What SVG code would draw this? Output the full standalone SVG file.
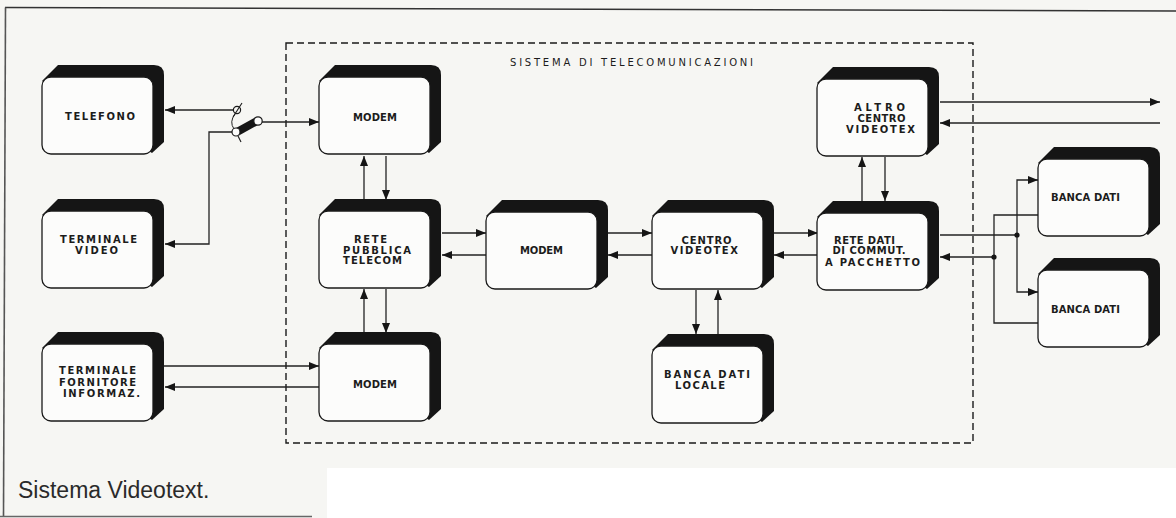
<svg xmlns="http://www.w3.org/2000/svg" width="1176" height="518" viewBox="0 0 1176 518">
<defs>
<style>
.bk{fill:#151515}
.fr{fill:#fcfcfb;stroke:#1a1a1a;stroke-width:1.3}
.t{font-family:"DejaVu Sans","Liberation Sans",sans-serif;font-size:10px;font-weight:bold;fill:#1c1c1c}
.tn{font-weight:normal}
.c{fill:none;stroke:#222;stroke-width:1.3}
.a{marker-end:url(#ar)}
.dot{fill:#151515}
</style>
<marker id="ar" viewBox="0 0 10 8" refX="10" refY="4" markerWidth="10" markerHeight="8" markerUnits="userSpaceOnUse" orient="auto"><path d="M0,0 L10,4 L0,8 Z" fill="#151515"/></marker>
<g id="box">
<path class="bk" d="M0,4 L16,-12 L112,-12 Q122,-12 122,-2 L122,65 L110,76 Z"/>
<rect class="fr" x="0" y="0" width="111" height="77" rx="9"/>
</g>
</defs>

<rect width="1176" height="518" fill="#ffffff"/>
<path d="M0,0 H1176 V468 H327 V518 H0 Z" fill="#f6f6f3"/>
<path d="M5,7.5 L1176,11" stroke="#333" stroke-width="1.6" fill="none"/>
<path d="M5.5,7.5 L3.5,516" stroke="#555" stroke-width="1.6" fill="none"/>
<path d="M0,516.5 H312" stroke="#666" stroke-width="1.5" fill="none"/>

<g id="sistema">
<rect x="286" y="43" width="687" height="400" fill="none" stroke="#1a1a1a" stroke-width="1.4" stroke-dasharray="7 4"/>
<text class="t tn" x="510" y="65.5" textLength="243" lengthAdjust="spacing">SISTEMA DI TELECOMUNICAZIONI</text>
</g>

<g id="connectors">
<path class="c a" d="M233,110 H165"/>
<path class="c a" d="M232,132 H209 V244 H165"/>
<path class="c a" d="M262,122 H319"/>
<path class="c a" d="M364,200 V156"/>
<path class="c a" d="M386,156 V200"/>
<path class="c a" d="M364,333 V289"/>
<path class="c a" d="M386,289 V333"/>
<path class="c a" d="M164,366 H319"/>
<path class="c a" d="M319,387 H165"/>
<path class="c a" d="M442,233 H486"/>
<path class="c a" d="M486,255 H442"/>
<path class="c a" d="M608,233 H652"/>
<path class="c a" d="M652,255 H608"/>
<path class="c a" d="M774,233 H818"/>
<path class="c a" d="M818,255 H774"/>
<path class="c a" d="M696,290 V334"/>
<path class="c a" d="M718,334 V290"/>
<path class="c a" d="M862,201 V157"/>
<path class="c a" d="M885,157 V201"/>
<path class="c a" d="M940,102 H1160"/>
<path class="c a" d="M1160,123 H940"/>
<path class="c" d="M940,235 H1017"/>
<path class="c a" d="M1017,235 V180 H1038"/>
<path class="c a" d="M1017,235 V292 H1038"/>
<path class="c" d="M1038,215 H994 V323 H1038"/>
<path class="c a" d="M994,257 H940"/>
<circle class="dot" cx="1017" cy="235" r="2.6"/>
<circle class="dot" cx="994" cy="257" r="2.6"/>
</g>

<g id="switch">
<path d="M235,114 Q229,122 234,129" fill="none" stroke="#222" stroke-width="1"/>
<circle cx="237" cy="110" r="3.6" fill="#f6f6f3" stroke="#1a1a1a" stroke-width="1.2"/>
<path d="M233,117 L242,103" stroke="#1a1a1a" stroke-width="1.1"/>
<path d="M237,132 L257,121" stroke="#151515" stroke-width="8"/>
<circle cx="236" cy="132" r="4" fill="#fcfcfb" stroke="#1a1a1a" stroke-width="1.2"/>
<circle cx="258" cy="121" r="4.2" fill="#fcfcfb" stroke="#1a1a1a" stroke-width="1.2"/>
<path d="M238,136 L241,142" stroke="#1a1a1a" stroke-width="1.1"/>
</g>

<g id="telefono">
<use href="#box" x="42" y="77"/>
<text class="t" x="65" y="120" textLength="70" lengthAdjust="spacing">TELEFONO</text>
</g>
<g id="terminale-video">
<use href="#box" x="42" y="211"/>
<text class="t" x="60" y="242.5" textLength="77" lengthAdjust="spacing">TERMINALE</text>
<text class="t" x="75" y="253.5" textLength="43" lengthAdjust="spacing">VIDEO</text>
</g>
<g id="terminale-fornitore">
<use href="#box" x="42" y="344"/>
<text class="t" x="59" y="374" textLength="77" lengthAdjust="spacing">TERMINALE</text>
<text class="t" x="59" y="385.5" textLength="77" lengthAdjust="spacing">FORNITORE</text>
<text class="t" x="63" y="396.5" textLength="77" lengthAdjust="spacing">INFORMAZ.</text>
</g>
<g id="modem-1">
<use href="#box" x="319" y="77"/>
<text class="t" x="353" y="120.5" textLength="44" lengthAdjust="spacing">MODEM</text>
</g>
<g id="rete-pubblica">
<use href="#box" x="319" y="211"/>
<text class="t" x="354" y="242.5" textLength="33" lengthAdjust="spacing">RETE</text>
<text class="t" x="343" y="253.5" textLength="68" lengthAdjust="spacing">PUBBLICA</text>
<text class="t" x="343" y="264" textLength="59" lengthAdjust="spacing">TELECOM</text>
</g>
<g id="modem-3">
<use href="#box" x="319" y="344"/>
<text class="t" x="353" y="387.5" textLength="44" lengthAdjust="spacing">MODEM</text>
</g>
<g id="modem-2">
<use href="#box" x="486" y="212"/>
<text class="t" x="520" y="254" textLength="43" lengthAdjust="spacing">MODEM</text>
</g>
<g id="centro-videotex">
<use href="#box" x="652" y="212"/>
<text class="t" x="681.5" y="243.5" textLength="50" lengthAdjust="spacing">CENTRO</text>
<text class="t" x="670.5" y="254" textLength="67.5" lengthAdjust="spacing">VIDEOTEX</text>
</g>
<g id="banca-dati-locale">
<use href="#box" x="652" y="346"/>
<text class="t" x="664" y="378" textLength="86" lengthAdjust="spacing">BANCA DATI</text>
<text class="t" x="675" y="388.5" textLength="50" lengthAdjust="spacing">LOCALE</text>
</g>
<g id="altro-centro">
<use href="#box" x="817" y="79"/>
<text class="t" x="854" y="110.5" textLength="51" lengthAdjust="spacing">ALTRO</text>
<text class="t" x="857.5" y="121.5" textLength="48" lengthAdjust="spacing">CENTRO</text>
<text class="t" x="846" y="132.5" textLength="69" lengthAdjust="spacing">VIDEOTEX</text>
</g>
<g id="rete-dati">
<use href="#box" x="817" y="213"/>
<text class="t" x="834" y="243.5" textLength="61" lengthAdjust="spacing">RETE DATI</text>
<text class="t" x="832.5" y="254" textLength="73" lengthAdjust="spacing">DI COMMUT.</text>
<text class="t" x="825" y="266" textLength="95" lengthAdjust="spacing">A PACCHETTO</text>
</g>
<g id="banca-dati-1">
<use href="#box" x="1038" y="159"/>
<text class="t" x="1051" y="201" textLength="69" lengthAdjust="spacing">BANCA DATI</text>
</g>
<g id="banca-dati-2">
<use href="#box" x="1038" y="270"/>
<text class="t" x="1051" y="312.5" textLength="69" lengthAdjust="spacing">BANCA DATI</text>
</g>

<text x="18" y="498" font-family="'Liberation Sans',Arial,sans-serif" font-size="23" fill="#2a2a2a">Sistema Videotext.</text>
</svg>
